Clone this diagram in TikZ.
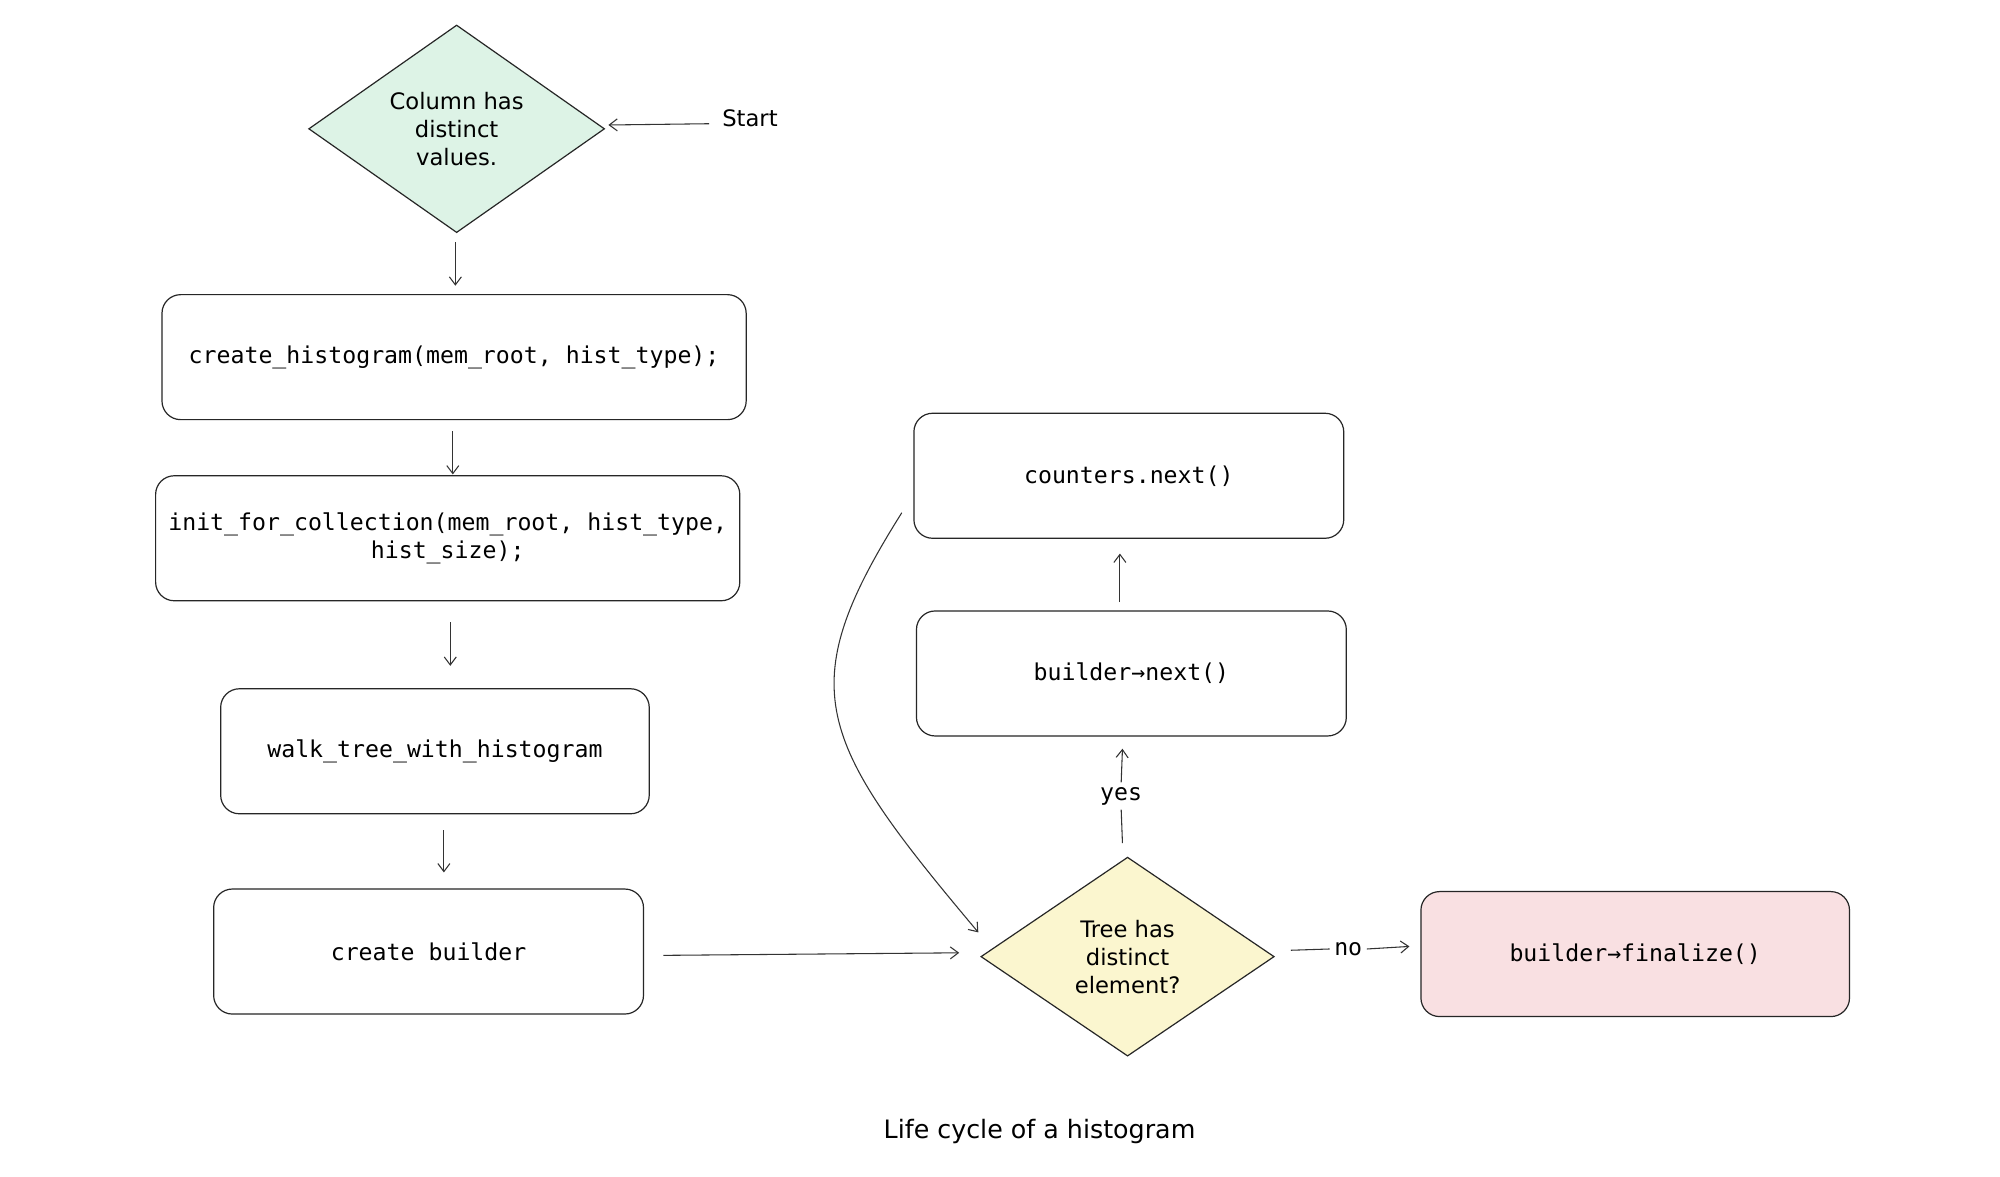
\documentclass[tikz,border=0pt]{standalone}
\usepackage{fontspec}
\setmainfont{DejaVu Sans}
\newfontfamily\codef{DejaVu Sans Mono}
\usetikzlibrary{shapes.geometric,arrows.meta}
\definecolor{gfill}{HTML}{DDF3E6}
\definecolor{yfill}{HTML}{FBF6CF}
\definecolor{pfill}{HTML}{F9E0E2}
\begin{document}
\begin{tikzpicture}[x=0.9566pt,y=-0.9566pt,
  box/.style={draw=black!85,line width=0.9pt,rounded corners=14pt,inner sep=0pt,align=center,font=\codef\fontsize{17.4}{21}\selectfont},
  dia/.style={draw=black!85,line width=0.9pt,diamond,inner sep=0pt,align=center,font=\fontsize{17}{21}\selectfont},
  arr/.style={draw=black!80,line width=0.8pt,-{Straight Barb[length=6pt,width=9pt]}},
  ln/.style={draw=black!80,line width=0.8pt},
  lbl/.style={font=\fontsize{17}{21}\selectfont}]
\useasboundingbox (0,0) rectangle (1568,922);
\fill[white] (0,0) rectangle (1568,922);
\node[dia,fill=gfill,minimum width=232*0.9566pt,minimum height=156*0.9566pt] (d1) at (358,101) {Column has\\distinct\\values.};
\node[lbl] (start) at (588,93) {Start};
\node[box,minimum width=458*0.9566pt,minimum height=98*0.9566pt] (b1) at (356,280) {create\_histogram(mem\_root, hist\_type);};
\node[box,minimum width=458*0.9566pt,minimum height=98*0.9566pt] (b2) at (351,422) {init\_for\_collection(mem\_root, hist\_type,\\hist\_size);};
\node[box,minimum width=336*0.9566pt,minimum height=98*0.9566pt] (b3) at (341,589) {walk\_tree\_with\_histogram};
\node[box,minimum width=337*0.9566pt,minimum height=98*0.9566pt] (b4) at (336,746) {create builder};
\node[dia,fill=yfill,minimum width=230*0.9566pt,minimum height=156*0.9566pt] (d2) at (884,750) {Tree has\\distinct\\element?};
\node[box,minimum width=337*0.9566pt,minimum height=98*0.9566pt] (b5) at (887,528) {builder→next()};
\node[box,minimum width=337*0.9566pt,minimum height=98*0.9566pt] (b6) at (885,373) {counters.next()};
\node[box,fill=pfill,minimum width=336*0.9566pt,minimum height=98*0.9566pt] (b7) at (1282,748) {builder→finalize()};
\node[font=\codef\fontsize{17.4}{21}\selectfont] (yes) at (879,624) {yes};
\node[font=\codef\fontsize{17.4}{21}\selectfont] (no) at (1057,744) {no};
\node[font=\fontsize{19}{23}\selectfont] (cap) at (815,887) {Life cycle of a histogram};
\coordinate (s0) at (556,97); \coordinate (s1) at (477,98);
\coordinate (a0) at (357,190); \coordinate (a1) at (357,224);
\coordinate (e0) at (355,338); \coordinate (e1) at (355,372);
\coordinate (f0) at (353,488); \coordinate (f1) at (353,522);
\coordinate (g0) at (348,651); \coordinate (g1) at (348,684);
\coordinate (h0) at (520,749); \coordinate (h1) at (752,747);
\coordinate (y0) at (880,661); \coordinate (y1) at (880,587);
\coordinate (u0) at (878,472); \coordinate (u1) at (878,434);
\coordinate (c0) at (707,402); \coordinate (c1) at (767,731);
\coordinate (n0) at (1012,745); \coordinate (n1) at (1105,742);
\draw[arr] (s0) -- (s1);
\draw[arr] (a0) -- (a1);
\draw[arr] (e0) -- (e1);
\draw[arr] (f0) -- (f1);
\draw[arr] (g0) -- (g1);
\draw[arr] (h0) -- (h1);
\draw[ln] (y0) -- (yes.south);
\draw[arr] (yes.north) -- (y1);
\draw[arr] (u0) -- (u1);
\draw[arr] (c0) .. controls (620,540) and (640,580) .. (c1);
\draw[ln] (n0) -- (no.west);
\draw[arr] (no.east) -- (n1);
\end{tikzpicture}
\end{document}
